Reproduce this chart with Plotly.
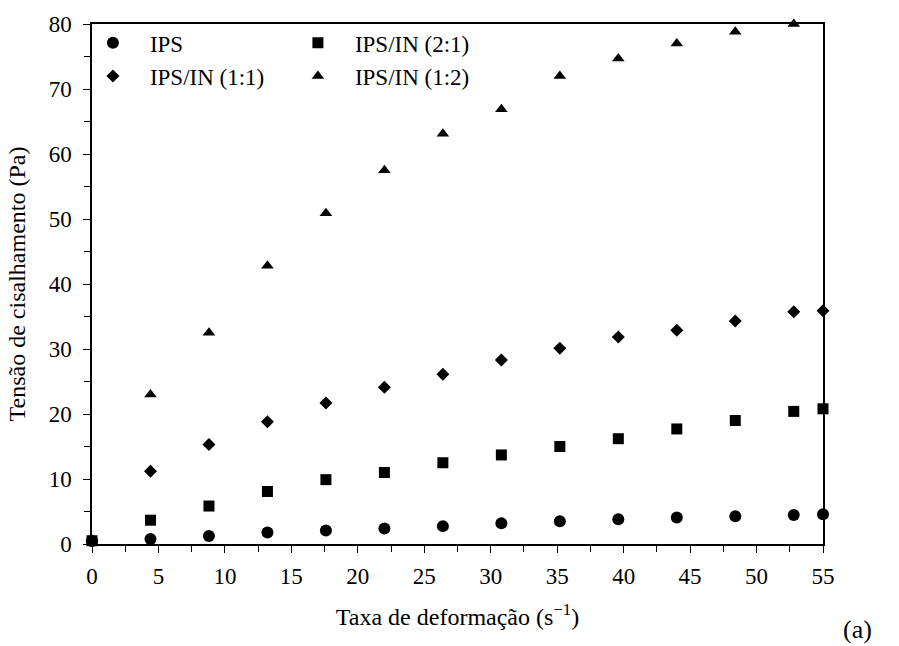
import plotly.graph_objects as go

x = [0, 4.4, 8.8, 13.2, 17.6, 22, 26.4, 30.8, 35.2, 39.6, 44, 48.4, 52.8, 55]
ips = [0.45, 0.76, 1.22, 1.78, 2.09, 2.4, 2.75, 3.2, 3.5, 3.8, 4.06, 4.27, 4.47, 4.57]
ips_in_21 = [0.5, 3.66, 5.84, 8.08, 9.9, 11.0, 12.5, 13.7, 15.0, 16.2, 17.7, 19.0, 20.4, 20.8]
ips_in_11 = [0.5, 11.2, 15.3, 18.8, 21.7, 24.1, 26.1, 28.3, 30.1, 31.85, 32.9, 34.3, 35.75, 35.9]
ips_in_12 = [0.5, 23.0, 32.5, 42.8, 50.9, 57.5, 63.1, 66.9, 72.0, 74.7, 77.0, 78.8, 80.0, 80.1]

x_title = "Taxa de deformação (s<sup>−1</sup>)"
y_title = "Tensão de cisalhamento (Pa)"
x_ticks = [0, 5, 10, 15, 20, 25, 30, 35, 40, 45, 50, 55]
y_ticks = [0, 10, 20, 30, 40, 50, 60, 70, 80]

FONT = "Liberation Serif, Times New Roman, serif"

fig = go.Figure()
series = [
    ("IPS", ips, "circle", 12, "legend"),
    ("IPS/IN (2:1)", ips_in_21, "square", 11, "legend"),
    ("IPS/IN (1:1)", ips_in_11, "diamond", 10, "legend2"),
    ("IPS/IN (1:2)", ips_in_12, "triangle-up", 11, "legend2"),
]
for name, ys, sym, size, lg in series:
    fig.add_trace(go.Scatter(
        x=x, y=ys, name=name, mode="markers",
        marker=dict(symbol=sym, size=size, color="black", line=dict(width=0)),
        cliponaxis=False, legend=lg,
    ))

axis_common = dict(
    showline=True, linecolor="black", linewidth=1.5, mirror=True,
    ticks="outside", ticklen=7, tickwidth=1.2, tickcolor="black",
    showgrid=False, zeroline=False,
    tickfont=dict(family=FONT, size=23, color="black"),
)
fig.update_xaxes(
    range=[0, 55], tickvals=x_ticks, ticklabelstandoff=4,
    minor=dict(dtick=2.5, ticks="outside", ticklen=6, tickwidth=1.2, tickcolor="black", showgrid=False),
    title=dict(text=x_title, font=dict(family=FONT, size=24, color="black"), standoff=20),
    **axis_common,
)
fig.update_yaxes(
    range=[0, 80], tickvals=y_ticks, ticklabelstandoff=7,
    minor=dict(dtick=5, ticks="outside", ticklen=6, tickwidth=1.2, tickcolor="black", showgrid=False),
    title=dict(text=y_title, font=dict(family=FONT, size=24, color="black"), standoff=16),
    **axis_common,
)

legend_common = dict(
    orientation="h", xanchor="left", yanchor="middle",
    entrywidth=126, entrywidthmode="pixels",
    font=dict(family=FONT, size=23, color="black"),
    bgcolor="rgba(0,0,0,0)", itemwidth=64,
)
fig.update_layout(
    width=899, height=646,
    margin=dict(l=92, r=76, t=19, b=102),
    paper_bgcolor="white", plot_bgcolor="white",
    legend=dict(x=-0.022, y=0.964, **legend_common),
    legend2=dict(x=-0.022, y=0.900, **legend_common),
    annotations=[dict(
        text="(a)", xref="paper", yref="paper", x=1.047, y=-0.165,
        xanchor="center", yanchor="middle", showarrow=False,
        font=dict(family=FONT, size=26, color="black"),
    )],
)

fig.write_html("out.html")
